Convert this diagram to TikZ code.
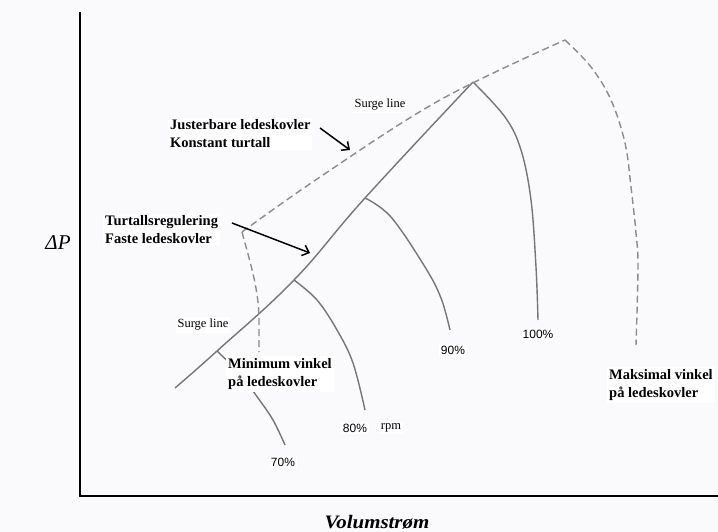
\documentclass[tikz,border=0pt]{standalone}
\usepackage{fontspec}
\setmainfont{Liberation Serif}
\newfontfamily\pctfont{Liberation Sans}
\usetikzlibrary{arrows.meta}
\definecolor{bg}{RGB}{250,250,252}
\definecolor{curvegray}{RGB}{118,118,118}
\definecolor{dashgray}{RGB}{140,140,140}
\begin{document}
\begin{tikzpicture}[x=1pt,y=-1pt,
  axis/.style={line width=2.4pt,black,line join=miter},
  speed/.style={line width=1.4pt,curvegray},
  guide/.style={line width=1.4pt,dashgray,dash pattern=on 7pt off 4pt},
  boldlab/.style={fill=white,inner sep=2pt,align=left,anchor=west,font=\fontsize{14.5}{18}\selectfont\bfseries},
  pct/.style={fill=white,inner sep=1.5pt,font=\fontsize{12}{13}\selectfont\pctfont},
  smalllab/.style={fill=white,inner sep=2pt,font=\fontsize{12.5}{14}\selectfont},
  pointer/.style={line width=1.5pt,black,-{Straight Barb[length=6pt,width=11pt]}}
]
\fill[bg] (0,0) rectangle (718,532);
\useasboundingbox (0,0) rectangle (718,532);

% axes
\coordinate (ytop) at (80,12);
\coordinate (orig) at (80,496);
\coordinate (xend) at (718,496);
\draw[axis] (ytop) -- (orig) -- (xend);

% surge line (solid)
\coordinate (s0) at (175,388);
\coordinate (s70) at (217,351);
\coordinate (s1) at (259,313);
\coordinate (s80) at (294,280);
\coordinate (s90) at (365,198);
\coordinate (s100) at (473,82);
\draw[speed] plot[smooth,tension=0.7] coordinates {(s0) (s70) (s80) (s90) (s100)};

% speed curves
\draw[speed] plot[smooth,tension=0.6] coordinates {(s100) (505,117) (521,150) (531,200) (536,267) (538,320)};
\draw[speed] plot[smooth,tension=0.6] coordinates {(s90) (391,217) (425,267) (441,298) (450,330)};
\draw[speed] plot[smooth,tension=0.6] coordinates {(s80) (317,300) (337,330) (353,363) (365,410)};
\draw[speed] plot[smooth,tension=0.6] coordinates {(s70) (240,374) (258,398) (273,420) (285,445)};

% guide vane lines (dashed)
\coordinate (g0) at (242,232);
\coordinate (gtop) at (565,40);
\draw[guide] (g0) .. controls (250,262) and (259,290) .. (259,320) -- (259,352);
\draw[guide] plot[smooth,tension=0.6] coordinates {(g0) (320,177) (440,100) (gtop)};
\draw[guide] plot[smooth,tension=0.6] coordinates {(gtop) (591,67) (611,100) (625,143) (631,187) (636,233) (638,267) (636,345)};

% labels
\node[smalllab] (surgetop) at (380,105) {Surge line};
\node[smalllab] (surgelow) at (203,325) {Surge line};

\node[boldlab] (just) at (168,134) {Justerbare ledeskovler\\Konstant turtall};
\node[boldlab] (turt) at (103,230) {Turtallsregulering\\Faste ledeskovler};
\node[boldlab] (minv) at (226,374) {Minimum vinkel\\på ledeskovler};
\node[boldlab] (maxv) at (607,385) {Maksimal vinkel\\på ledeskovler};

\coordinate (a1s) at (320,128);
\coordinate (a1e) at (350,150);
\coordinate (a2s) at (232,223);
\coordinate (a2e) at (310,253);
\draw[pointer] (a1s) -- (a1e);
\draw[pointer] (a2s) -- (a2e);

\node[pct] (p70) at (283,462) {70\%};
\node[pct] (p80) at (355,428) {80\%};
\node[smalllab,font=\fontsize{12.5}{14}\selectfont] (rpm) at (391,428) {rpm};
\node[pct] (p90) at (453,350) {90\%};
\node[pct] (p100) at (538,334) {100\%};

\node[font=\fontsize{21}{22}\selectfont\itshape] (dp) at (58,243) {ΔP};
\node[font=\fontsize{19}{20}\selectfont\bfseries\itshape,xscale=1.1] (vol) at (377,522) {Volumstrøm};
\end{tikzpicture}
\end{document}
